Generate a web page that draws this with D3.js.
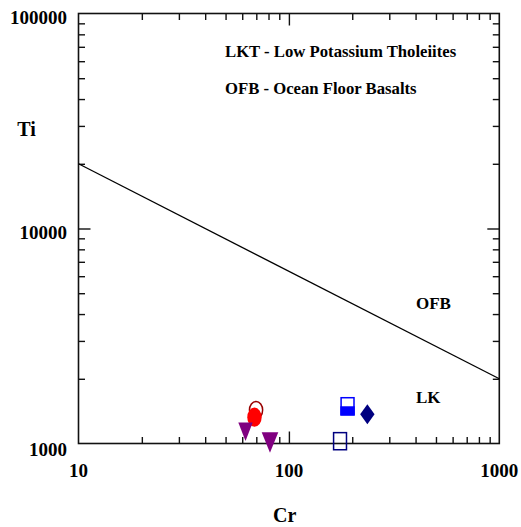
<!DOCTYPE html>
<html>
<head>
<meta charset="utf-8">
<script src="https://cdn.jsdelivr.net/npm/d3@7/dist/d3.min.js"></script>
<style>
  html, body { margin: 0; padding: 0; background: #fff; }
  svg { display: block; }
  text { font-family: "Liberation Serif", "Times New Roman", serif; font-weight: bold; fill: #000; }
</style>
</head>
<body>
<svg id="chart" width="521" height="527"></svg>
<script>
// Axis ranges and labelled decades
const crDomain = [10, 1000];
const tiDomain = [1000, 100000];
const crTickLabels = [10, 100, 1000];
const tiTickLabels = [1000, 10000, 100000];

// Discriminant line between OFB and LKT fields (Cr, Ti)
const boundaryCr = [10, 1000];
const boundaryTi = [20000, 2000];

// Field labels and legend notes
const fieldLabels = ["OFB", "LK"];
const notes = ["LKT - Low Potassium Tholeiites", "OFB - Ocean Floor Basalts"];

// Samples, one small array per group
const openCircleCr = [69.8];   const openCircleTi = [1430];
const redCircleCr = [68.6];    const redCircleTi = [1325];
const triangleCr = [62.2, 81.3]; const triangleTi = [1135, 1011];
const halfSquareCr = [190];    const halfSquareTi = [1490];
const diamondCr = [236];       const diamondTi = [1369];
const openSquareCr = [175];    const openSquareTi = [1025];

const svg = d3.select("#chart");
const plotLeft = 78.5, plotRight = 499.3, plotTop = 13.5, plotBottom = 443.5;

const x = d3.scaleLog().domain(crDomain).range([plotLeft, plotRight]);
const y = d3.scaleLog().domain(tiDomain).range([plotBottom, plotTop]);

// tick values: decades get long ticks, 2..9 multiples get short ones
function minorTicks(domain) {
  const out = [];
  for (let d = domain[0]; d < domain[1]; d *= 10)
    for (let k = 2; k <= 9; k++) out.push(d * k);
  return out;
}
const crMinor = minorTicks(crDomain), tiMinor = minorTicks(tiDomain);
const crMajor = crTickLabels.slice(1, -1), tiMajor = tiTickLabels.slice(1, -1);
const MAJ = 12, MIN = 6.5;

function addAxis(axis, tr) {
  const g = svg.append("g").attr("transform", tr).call(axis);
  g.select(".domain").remove();
  g.selectAll(".tick line").attr("stroke", "#111").attr("stroke-width", 1.4);
  g.selectAll("text").remove();
}
// inward ticks on all four sides
addAxis(d3.axisBottom(x).tickValues(crMinor).tickSizeInner(-MIN).tickSizeOuter(0), `translate(0,${plotBottom})`);
addAxis(d3.axisBottom(x).tickValues(crMajor).tickSizeInner(-MAJ).tickSizeOuter(0), `translate(0,${plotBottom})`);
addAxis(d3.axisTop(x).tickValues(crMinor).tickSizeInner(-MIN).tickSizeOuter(0), `translate(0,${plotTop})`);
addAxis(d3.axisTop(x).tickValues(crMajor).tickSizeInner(-MAJ).tickSizeOuter(0), `translate(0,${plotTop})`);
addAxis(d3.axisLeft(y).tickValues(tiMinor).tickSizeInner(-MIN).tickSizeOuter(0), `translate(${plotLeft},0)`);
addAxis(d3.axisLeft(y).tickValues(tiMajor).tickSizeInner(-MAJ).tickSizeOuter(0), `translate(${plotLeft},0)`);
addAxis(d3.axisRight(y).tickValues(tiMinor).tickSizeInner(-MIN).tickSizeOuter(0), `translate(${plotRight},0)`);
addAxis(d3.axisRight(y).tickValues(tiMajor).tickSizeInner(-MAJ).tickSizeOuter(0), `translate(${plotRight},0)`);

// frame
svg.append("rect")
  .attr("x", plotLeft).attr("y", plotTop)
  .attr("width", plotRight - plotLeft).attr("height", plotBottom - plotTop)
  .attr("fill", "none").attr("stroke", "#111").attr("stroke-width", 1.6);

// tick labels
svg.selectAll(".xl").data(crTickLabels).join("text")
  .attr("x", d => x(d)).attr("y", plotBottom + 33)
  .attr("text-anchor", "middle").attr("font-size", 19)
  .text(d => d);
svg.selectAll(".yl").data(tiTickLabels).join("text")
  .attr("x", plotLeft - 11.5)
  .attr("y", (d, i) => y(d) + (i === 0 ? 12.5 : 10))
  .attr("text-anchor", "end").attr("font-size", 19)
  .text(d => d);

// axis titles
svg.append("text").attr("x", 26.5).attr("y", 136).attr("text-anchor", "middle")
  .attr("font-size", 20).text("Ti");
svg.append("text").attr("x", 284.7).attr("y", 522).attr("text-anchor", "middle")
  .attr("font-size", 20).text("Cr");

// notes
svg.selectAll(".note").data(notes).join("text")
  .attr("x", 225).attr("y", (d, i) => [56.7, 94.3][i])
  .attr("font-size", 16.7).text(d => d);

// field boundary
svg.append("line")
  .attr("x1", x(boundaryCr[0])).attr("y1", y(boundaryTi[0]))
  .attr("x2", x(boundaryCr[1])).attr("y2", y(boundaryTi[1]))
  .attr("stroke", "#000").attr("stroke-width", 1.3);

// field names
svg.selectAll(".field").data(fieldLabels).join("text")
  .attr("x", 416).attr("y", (d, i) => [309.3, 402.7][i])
  .attr("font-size", 17).text(d => d);

// markers
const HW = 7.2, HH = 9.3;
function pts(cr, ti) { return cr.map((c, i) => [x(c), y(ti[i])]); }

svg.selectAll(".oc").data(pts(openCircleCr, openCircleTi)).join("ellipse")
  .attr("cx", d => d[0]).attr("cy", d => d[1]).attr("rx", HW - 0.6).attr("ry", HH - 0.6)
  .attr("fill", "none").attr("stroke", "#990000").attr("stroke-width", 1.5);

svg.selectAll(".rc").data(pts(redCircleCr, redCircleTi)).join("ellipse")
  .attr("cx", d => d[0]).attr("cy", d => d[1]).attr("rx", HW).attr("ry", HH + 0.3)
  .attr("fill", "#ff0000");

svg.selectAll(".tri").data(pts(triangleCr, triangleTi)).join("path")
  .attr("d", (d, i) => {
    const w = i === 0 ? 7.2 : 8.3, h = i === 0 ? 9.3 : 10.2;
    return `M${d[0] - w},${d[1] - h}L${d[0] + w},${d[1] - h}L${d[0]},${d[1] + h}Z`;
  })
  .attr("fill", "#800080");

svg.selectAll(".hs").data(pts(halfSquareCr, halfSquareTi)).join("g")
  .each(function(d) {
    const g = d3.select(this);
    g.append("rect").attr("x", d[0] - HW).attr("y", d[1]).attr("width", 2 * HW).attr("height", HH)
      .attr("fill", "#0000ff");
    g.append("rect").attr("x", d[0] - HW + 0.75).attr("y", d[1] - HH + 0.75)
      .attr("width", 2 * HW - 1.5).attr("height", 2 * HH - 1.5)
      .attr("fill", "none").attr("stroke", "#0000ff").attr("stroke-width", 1.5);
  });

svg.selectAll(".dm").data(pts(diamondCr, diamondTi)).join("path")
  .attr("d", d => `M${d[0]},${d[1] - 10}L${d[0] + 7.2},${d[1]}L${d[0]},${d[1] + 10}L${d[0] - 7.2},${d[1]}Z`)
  .attr("fill", "#000080");

svg.selectAll(".os").data(pts(openSquareCr, openSquareTi)).join("rect")
  .attr("x", d => d[0] - HW + 0.75).attr("y", d => d[1] - HH + 0.75)
  .attr("width", 2 * HW - 1.5).attr("height", 2 * HH - 1.5)
  .attr("fill", "none").attr("stroke", "#000080").attr("stroke-width", 1.5);
</script>
</body>
</html>
